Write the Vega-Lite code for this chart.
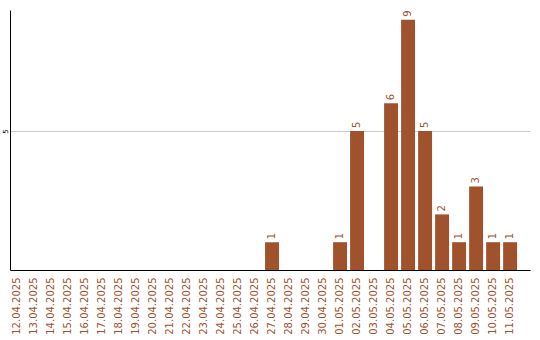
{
  "$schema": "https://vega.github.io/schema/vega-lite/v6.json",
  "autosize": "none",
  "width": 520,
  "height": 260,
  "padding": {"left": 10, "top": 10, "right": 10, "bottom": 70},
  "background": "white",
  "config": {"view": {"stroke": null}, "font": "DejaVu Sans"},
  "data": {"values": [
    {"date": "12.04.2025", "count": 0},
    {"date": "13.04.2025", "count": 0},
    {"date": "14.04.2025", "count": 0},
    {"date": "15.04.2025", "count": 0},
    {"date": "16.04.2025", "count": 0},
    {"date": "17.04.2025", "count": 0},
    {"date": "18.04.2025", "count": 0},
    {"date": "19.04.2025", "count": 0},
    {"date": "20.04.2025", "count": 0},
    {"date": "21.04.2025", "count": 0},
    {"date": "22.04.2025", "count": 0},
    {"date": "23.04.2025", "count": 0},
    {"date": "24.04.2025", "count": 0},
    {"date": "25.04.2025", "count": 0},
    {"date": "26.04.2025", "count": 0},
    {"date": "27.04.2025", "count": 1},
    {"date": "28.04.2025", "count": 0},
    {"date": "29.04.2025", "count": 0},
    {"date": "30.04.2025", "count": 0},
    {"date": "01.05.2025", "count": 1},
    {"date": "02.05.2025", "count": 5},
    {"date": "03.05.2025", "count": 0},
    {"date": "04.05.2025", "count": 6},
    {"date": "05.05.2025", "count": 9},
    {"date": "06.05.2025", "count": 5},
    {"date": "07.05.2025", "count": 2},
    {"date": "08.05.2025", "count": 1},
    {"date": "09.05.2025", "count": 3},
    {"date": "10.05.2025", "count": 1},
    {"date": "11.05.2025", "count": 1}
  ]},
  "encoding": {
    "x": {
      "field": "date", "type": "ordinal", "sort": null,
      "scale": {"paddingInner": 0.18, "paddingOuter": 0.38, "align": 0},
      "axis": {
        "title": null, "ticks": false, "labelAngle": 270, "labelAlign": "right", "labelBaseline": "middle",
        "labelPadding": 7, "labelFontSize": 10, "labelColor": "#a0522d", "labelFont": "DejaVu Sans",
        "domainColor": "#000000", "domainWidth": 1, "grid": false
      }
    },
    "y": {
      "field": "count", "type": "quantitative",
      "scale": {"domain": [0, 9.35], "nice": false},
      "axis": {
        "title": null, "values": [5], "ticks": false, "labelAngle": 270, "labelAlign": "center", "labelBaseline": "middle",
        "labelPadding": 5, "labelFontSize": 7, "labelColor": "#000000",
        "domainColor": "#000000", "domainWidth": 1, "grid": true, "gridColor": "#cccccc", "gridWidth": 1
      }
    }
  },
  "layer": [
    {"mark": {"type": "bar", "color": "#a0522d"}},
    {
      "transform": [{"filter": "datum.count > 0"}],
      "mark": {"type": "text", "angle": 270, "align": "left", "baseline": "middle", "dx": 3, "fontSize": 10, "color": "#a0522d", "font": "DejaVu Sans"},
      "encoding": {"text": {"field": "count", "type": "quantitative"}}
    }
  ]
}
